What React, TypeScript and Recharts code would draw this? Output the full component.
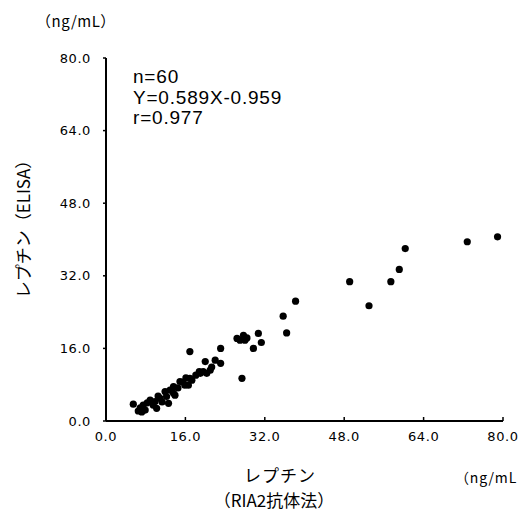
import React from "react";
import { ScatterChart, Scatter, XAxis, YAxis } from "recharts";

// RIA2 (x) vs ELISA (y), ng/mL
const RIA_VALUES = [
  5.5, 6.5, 7.2, 6.9, 7.5, 8.3, 8.9, 9.5, 9.9, 10.2,
  10.9, 11.3, 11.9, 12.2, 12.6, 13.6, 13.6, 12.9, 13.9, 14.9,
  15.9, 15.5, 16.9, 16.6, 16.9, 17.3, 18.8, 19.0, 19.6, 20.0,
  20.3, 21.0, 21.3, 22.0, 23.1, 23.1, 26.4, 27.0, 27.7, 28.0,
  28.4, 27.4, 29.7, 30.7, 31.3, 35.7, 36.4, 38.2, 49.1, 53.0,
  57.4, 59.1, 60.3, 72.8, 78.9, 7.9, 10.5, 14.5, 16.1, 18.1,
];
const ELISA_VALUES = [
  3.7, 2.2, 2.0, 2.9, 3.5, 4.0, 4.6, 3.5, 4.3, 2.8,
  5.0, 4.2, 6.5, 5.4, 3.9, 7.6, 6.1, 6.8, 5.7, 8.7,
  7.9, 8.6, 9.4, 7.9, 15.3, 9.0, 10.9, 10.5, 10.9, 13.1,
  10.5, 11.2, 11.9, 13.4, 12.7, 16.0, 18.2, 17.8, 18.9, 17.8,
  18.3, 9.4, 16.0, 19.3, 17.3, 23.1, 19.4, 26.4, 30.7, 25.4,
  30.7, 33.4, 38.0, 39.5, 40.6, 2.4, 5.5, 7.3, 9.5, 10.1,
];
const TICKS = [0, 16, 32, 48, 64, 80];

const points = RIA_VALUES.map((x, i) => ({ x, y: ELISA_VALUES[i] }));

const FONT = "'DejaVu Sans', sans-serif";
const LATIN = "'Liberation Sans', Arial, sans-serif";
const CJK = "'Noto Sans CJK JP', sans-serif";

const txt = (extra: React.CSSProperties): React.CSSProperties => ({
  position: "absolute",
  whiteSpace: "nowrap",
  color: "#000",
  lineHeight: 1,
  ...extra,
});

const tickStyle = { fill: "#000", fontSize: 13, fontFamily: FONT, letterSpacing: 0.6 };

export default function App() {
  return (
    <div style={{ position: "absolute", left: 0, top: 0, width: 527, height: 516, background: "#fff", overflow: "hidden" }}>
      <ScatterChart width={527} height={516} margin={{ top: 58, right: 24, bottom: 65, left: 56 }}>
        <XAxis
          type="number"
          dataKey="x"
          domain={[0, 80]}
          ticks={TICKS}
          tickFormatter={(v) => v.toFixed(1)}
          height={30}
          tickSize={-4}
          tickMargin={15}
          axisLine={{ stroke: "#000", strokeWidth: 2 }}
          tickLine={{ stroke: "#000", strokeWidth: 1.5 }}
          tick={tickStyle}
        />
        <YAxis
          type="number"
          dataKey="y"
          domain={[0, 80]}
          ticks={TICKS}
          tickFormatter={(v) => v.toFixed(1)}
          width={50}
          tickSize={3}
          tickMargin={12}
          axisLine={{ stroke: "#000", strokeWidth: 2 }}
          tickLine={{ stroke: "#000", strokeWidth: 1.5 }}
          tick={tickStyle}
        />
        <Scatter
          data={points}
          fill="#000"
          isAnimationActive={false}
          shape={(p: any) => <circle cx={p.cx} cy={p.cy} r={3.6} fill="#000" />}
        />
      </ScatterChart>

      <div style={txt({ left: 36, top: 13, fontSize: 15, fontFamily: CJK, letterSpacing: 0.5 })}>（ng/mL）</div>
      <div style={txt({ left: 133, top: 67, fontSize: 19, fontFamily: LATIN, lineHeight: "20.5px", letterSpacing: 0.8 })}>
        n=60
        <br />
        Y=0.589X-0.959
        <br />
        r=0.977
      </div>
      <div
        style={txt({
          left: 22,
          top: 225,
          fontSize: 17,
          fontFamily: CJK,
          transform: "translate(-50%, -50%) rotate(-90deg)",
        })}
      >
        レプチン（ELISA）
      </div>
      <div style={txt({ left: 280, top: 474, fontSize: 17, fontFamily: CJK, letterSpacing: 1, transform: "translate(-50%, -50%)" })}>
        レプチン
      </div>
      <div style={txt({ left: 274, top: 499, fontSize: 17, fontFamily: CJK, transform: "translate(-50%, -50%)" })}>
        （RIA2抗体法）
      </div>
      <div style={txt({ left: 455, top: 470, fontSize: 14, fontFamily: CJK, letterSpacing: 0.8 })}>（ng/mL</div>
    </div>
  );
}
